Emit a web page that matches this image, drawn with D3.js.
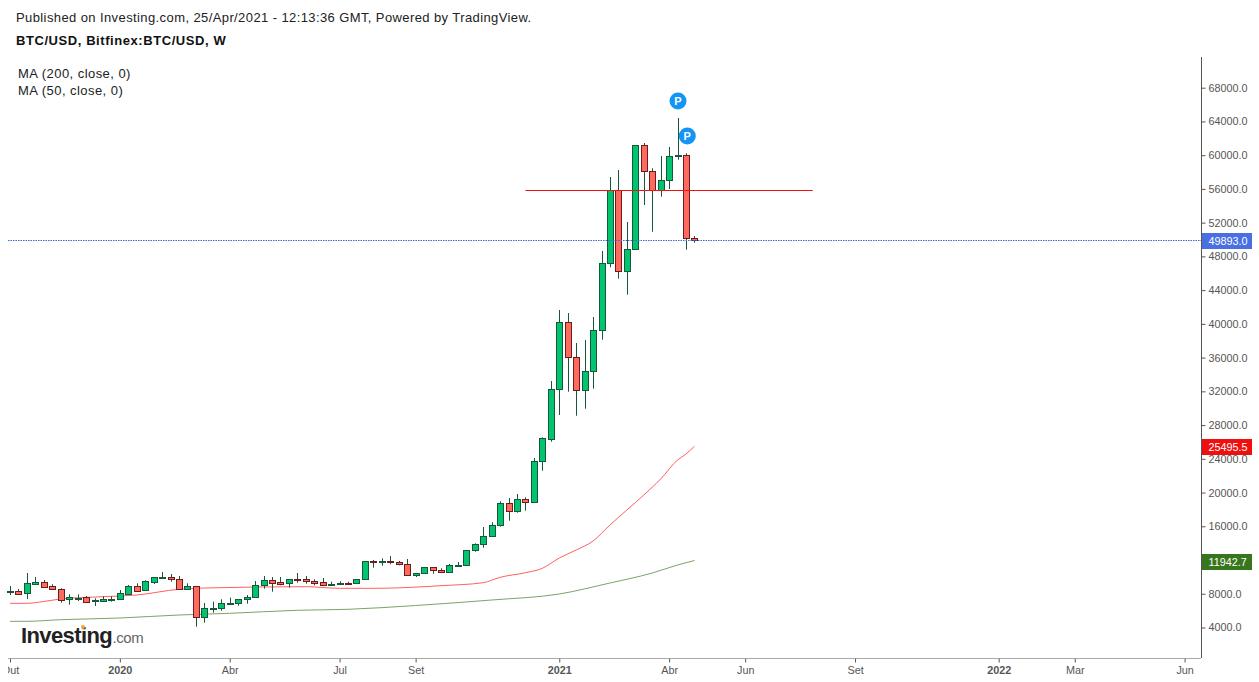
<!DOCTYPE html>
<html>
<head>
<meta charset="utf-8">
<script src="https://cdn.jsdelivr.net/npm/d3@7/dist/d3.min.js"></script>
<style>
  body { margin: 0; background: #fff; }
  svg { display: block; font-family: "Liberation Sans", Arial, sans-serif; }
  .axis path, .axis line { stroke: #555; }
  .axis text { fill: #555; font-size: 10.8px; font-family: "Liberation Sans", Arial, sans-serif; }
</style>
</head>
<body>
<svg id="chart" width="1259" height="682"></svg>
<script>
// weekly candles, BTC/USD
const opens = [8173,8292,8055,9193,9359,8885,8529,7343,7462,7580,
  7106,7177,7296,7343,8007,8885,8410,9430,9869,9952,
  9715,8529,8885,5209,6229,6276,6822,6869,7343,7580,
  9003,9596,9394,9240,9750,9715,9477,9359,9003,9122,
  9276,9240,9715,11849,11730,11849,11730,11493,10189,10426,
  11137,10782,10545,11327,11374,13153,13864,14813,16117,18725,
  17777,19199,18844,23776,26384,32241,40184,36035,32122,34375,
  39236,47180,55835,46232,48839,61169,58087,55835,57020,59866,
  59984,50143];
const closes = [8327,8007,9240,9394,8837,8529,7296,7580,7533,7059,
  7260,7379,7379,8090,8885,8363,9477,9952,9952,9715,
  8529,8885,5209,6276,6312,6869,6905,7343,7580,9003,
  9596,9311,9193,9715,9667,9477,9311,9003,9157,9240,
  9240,9715,11849,11730,11849,11730,11493,10189,10426,11137,
  10782,10545,11374,11410,13153,13864,14813,16117,18725,17777,
  19199,18844,23776,26431,32241,40184,36035,32122,34375,39236,
  47180,55835,46232,48839,61169,58087,55835,57020,59866,59984,
  50143,49893];
const highs = [8920,8565,10461,9987,9632,9122,8648,7936,7936,7735,
  7462,7699,7699,8446,9039,9240,9596,9952,10580,10343,
  10106,9240,8885,6905,7059,7343,7533,7343,7853,9513,
  10106,9987,9987,9715,10461,10106,9715,9869,9430,9477,
  9430,9715,11849,12003,12205,12477,11884,12121,10426,11137,
  11137,11019,11529,11766,13153,13983,15915,16473,18962,19354,
  19828,19436,24096,26550,33225,41643,41287,37730,38086,40813,
  48638,57411,58241,52076,61169,61442,58443,59900,60969,64406,
  60222,50416];
const lows = [7853,7972,7379,9039,8802,8482,6940,6703,7142,7023,
  6549,7177,7059,7320,8007,8363,8410,9157,9786,9430,
  8529,8529,4095,4569,5755,5992,6822,6585,6822,7580,
  8600,8244,9003,8719,9311,9193,9003,9003,8920,9074,
  9193,9240,9715,11090,11327,11493,11374,10189,9987,10426,
  10379,10497,10545,11327,11374,12987,13461,14813,15951,16662,
  17611,17848,18844,22590,26029,29194,31956,29111,29941,32312,
  38122,46706,45354,43457,48839,54091,50926,55076,55989,59462,
  48792,49623];

// moving averages, read at [week index, value]
const ma50 = [[0,6869],[2,6869],[4,7083],[6,7379],[11,7652],[15,7853],[20,8529],[23,8683],
  [35,8837],[39,8648],[43,8648],[49,8837],[51,8956],[56,9311],[58,9952],[61,10497],[63,11019],
  [65,12240],[67,13188],[69,14255],[71,16153],[73,17931],[75,19709],[77,21606],[79,23859],[80,24570],[81,25495.5]];
const ma200 = [[0,4735],[2,4735],[6,4925],[13,5126],[20,5482],[26,5684],[34,6039],[40,6158],
  [48,6608],[57,7260],[65,7972],[71,9276],[76,10461],[79,11410],[81,11942.7]];

const priceTicks = [4000,8000,12000,16000,20000,24000,28000,32000,36000,40000,44000,48000,52000,56000,60000,64000,68000];
const timeTickWeeks = [0,13,26,39,48,65,78,87,100,117,126,139];
const timeTickLabels = ['Out','2020','Abr','Jul','Set','2021','Abr','Jun','Set','2022','Mar','Jun'];
const boldTicks = ['2020','2021','2022'];

const lastPrice = 49893;
const hLine = {from: 61, to: 95, price: 55870};
const pMarks = [[79.05,66420],[80.15,62272]];
const priceTags = [[49893,'#4a6fe3'],[25495.5,'#f00f0f'],[11942.7,'#38761d']];

const GREEN = '#00c46e', RED = '#ff6a5e', WICK = '#17583c', RED_EDGE = '#6b1c1c';

const svg = d3.select('#chart');
const x = d3.scaleLinear().domain([0,139]).range([10,1184.6]);
const y = d3.scaleLinear().domain([4000,68000]).range([627.5,87.7]);
const fmt = d3.format('.1f');
const PLOT_L = 8, PLOT_R = 1201, PLOT_T = 57, PLOT_B = 658;

svg.append('clipPath').attr('id','plotClip').append('rect')
  .attr('x',PLOT_L).attr('y',0).attr('width',1259-PLOT_L).attr('height',682);

// ma lines go under the candles
const line = d3.line().x(d => x(d[0])).y(d => y(d[1])).curve(d3.curveMonotoneX);
svg.append('path').attr('d',line(ma200)).attr('fill','none').attr('stroke','#7ba468').attr('stroke-width',1);
svg.append('path').attr('d',line(ma50)).attr('fill','none').attr('stroke','#ff5f5f').attr('stroke-width',1);

const candles = svg.append('g').attr('class','candles').selectAll('g')
  .data(opens.map((o,i) => ({i:i,o:o,c:closes[i],h:highs[i],l:lows[i]})))
  .enter().append('g');
const px = d => Math.round(x(d.i));
candles.append('line')
  .attr('x1',d => px(d)+0.5).attr('x2',d => px(d)+0.5)
  .attr('y1',d => y(d.h)).attr('y2',d => y(d.l))
  .attr('stroke',WICK).attr('stroke-width',1);
candles.append('rect')
  .attr('x',d => px(d)-3+0.5)
  .attr('width',6)
  .attr('y',d => Math.round(y(Math.max(d.o,d.c)))+0.5)
  .attr('height',d => Math.max(1,Math.round(y(Math.min(d.o,d.c)))-Math.round(y(Math.max(d.o,d.c)))))
  .attr('fill',d => d.c>=d.o ? GREEN : RED)
  .attr('stroke',d => d.c>=d.o ? WICK : RED_EDGE)
  .attr('stroke-width',1)
  .attr('shape-rendering','crispEdges');

// drawn level and last price
svg.append('line')
  .attr('x1',x(hLine.from)).attr('x2',x(hLine.to))
  .attr('y1',Math.round(y(hLine.price))+0.5).attr('y2',Math.round(y(hLine.price))+0.5)
  .attr('stroke','#f01010').attr('stroke-width',1);
svg.append('line')
  .attr('x1',PLOT_L).attr('x2',PLOT_R)
  .attr('y1',Math.round(y(lastPrice))+0.5).attr('y2',Math.round(y(lastPrice))+0.5)
  .attr('stroke','#3d66e0').attr('stroke-width',1).attr('stroke-dasharray','1.5,1');

const marks = svg.selectAll('g.pmark').data(pMarks).enter().append('g').attr('class','pmark')
  .attr('transform',d => `translate(${x(d[0])},${y(d[1])})`);
marks.append('circle').attr('r',8.5).attr('fill','#1395f5');
marks.append('text').text('P').attr('text-anchor','middle').attr('y',4)
  .attr('fill','#fff').attr('font-size',11).attr('font-weight','bold');

// axes
const yAxis = d3.axisRight(y).tickValues(priceTicks).tickFormat(fmt).tickSize(4).tickPadding(3);
const gy = svg.append('g').attr('class','axis').attr('transform',`translate(${PLOT_R+0.5},0)`).call(yAxis);
gy.select('.domain').attr('d',`M0,${PLOT_T}V${PLOT_B}`);

const xAxis = d3.axisBottom(x).tickValues(timeTickWeeks)
  .tickFormat((d,i) => timeTickLabels[i]).tickSize(4).tickPadding(4);
const gx = svg.append('g').attr('class','axis').attr('clip-path','url(#plotClip)')
  .attr('transform',`translate(0,${PLOT_B+0.5})`).call(xAxis);
gx.select('.domain').attr('d',`M${PLOT_L},0H${PLOT_R}`);
gx.selectAll('.tick text')
  .style('font-weight',d => boldTicks.includes(timeTickLabels[timeTickWeeks.indexOf(d)]) ? 'bold' : 'normal');

// price tags on the right axis
const tags = svg.selectAll('g.tag').data(priceTags).enter().append('g').attr('class','tag')
  .attr('transform',d => `translate(${PLOT_R+1},${Math.round(y(d[0]))})`);
tags.append('rect').attr('x',0).attr('y',-7).attr('width',50).attr('height',16).attr('fill',d => d[1]);
tags.append('text').text(d => fmt(d[0])).attr('x',6.5).attr('y',5)
  .attr('fill','#fff').attr('font-size',10.8);

// header text
const addText = (s,tx,ty,size,weight,fill,spacing) => svg.append('text').text(s).attr('x',tx).attr('y',ty)
  .attr('font-size',size).attr('font-weight',weight||'normal').attr('fill',fill||'#222')
  .attr('letter-spacing',spacing||0);
addText('Published on Investing.com, 25/Apr/2021 - 12:13:36 GMT, Powered by TradingView.',16,22,13,null,null,0.4);
addText('BTC/USD, Bitfinex:BTC/USD, W',16,45,13,'bold','#111',0.57);
addText('MA (200, close, 0)',18,78,13,null,null,0.45);
addText('MA (50, close, 0)',18,95,13,null,null,0.45);

// logo
addText('Investing',21,643,22,'bold','#222',-0.6);
addText('.com',112.5,643,15,'normal','#666',-0.4);
svg.append('circle').attr('cx',83).attr('cy',627).attr('r',2).attr('fill','#f5a623');
</script>
</body>
</html>
